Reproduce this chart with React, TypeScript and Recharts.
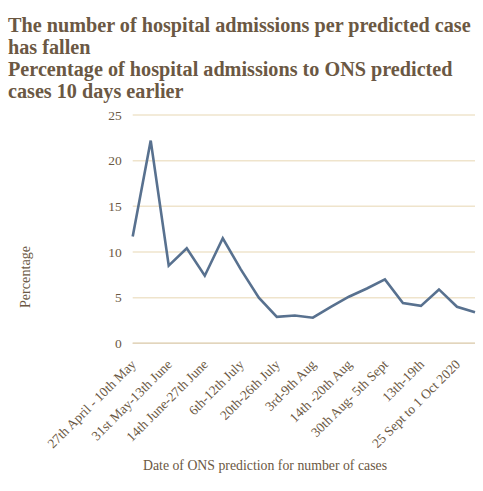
import React from 'react';
import { LineChart, Line, XAxis, YAxis, CartesianGrid, Label } from 'recharts';

// one label every other reporting period; the gaps stay blank on the axis
const periods = [
  '27th April - 10th May', '', '31st May-13th June', '', '14th June-27th June', '',
  '6th-12th July', '', '20th-26th July', '', '3rd-9th Aug', '', '14th -20th Aug', '',
  '30th Aug- 5th Sept', '', '13th-19th', '', '25 Sept to 1 Oct 2020', '',
];
const admissionPct = [
  11.7, 22.2, 8.5, 10.4, 7.4, 11.5, 8.1, 5.0, 2.9, 3.05,
  2.8, 4.0, 5.1, 6.0, 7.0, 4.4, 4.1, 5.9, 4.0, 3.4,
];
const yTicks = [0, 5, 10, 15, 20, 25];

const data = periods.map((p, i) => ({ idx: i, period: p, pct: admissionPct[i] }));

const BROWN = '#6b5843';
const FONT = '"Liberation Serif", "DejaVu Serif", serif';

const PeriodTick = (props: any) => {
  const { x, y, payload } = props;
  const text = periods[payload.value] || '';
  const ax = x + 4;
  const ay = y + 14;
  return (
    <text
      x={ax}
      y={ay}
      transform={`rotate(-45, ${ax}, ${ay})`}
      textAnchor="end"
      fontSize={13.5}
      fill={BROWN}
      fontFamily={FONT}
    >
      {text}
    </text>
  );
};

export default function App() {
  return (
    <div style={{ position: 'absolute', left: 0, top: 0, width: 483, height: 491, background: '#fff', fontFamily: FONT }}>
      <div
        style={{
          position: 'absolute',
          left: 8,
          top: 14,
          width: 475,
          color: BROWN,
          fontWeight: 'bold',
          fontSize: 20.2,
          lineHeight: '22px',
        }}
      >
        <div>The number of hospital admissions per predicted case has fallen</div>
        <div>Percentage of hospital admissions to ONS predicted cases 10 days earlier</div>
      </div>
      <div style={{ position: 'absolute', left: 0, top: 0 }}>
        <LineChart width={483} height={491} data={data} margin={{ top: 115, right: 8, left: 0, bottom: 0 }}>
          <CartesianGrid vertical={false} stroke="#efe4cc" strokeWidth={1.5} />
          <XAxis
            dataKey="idx"
            type="category"
            interval={0}
            tick={<PeriodTick />}
            tickLine={false}
            axisLine={{ stroke: '#e2d5bd', strokeWidth: 1.5 }}
            height={147.7}
          >
            <Label
              content={() => (
                <text x={265} y={467} textAnchor="middle" dominantBaseline="middle" fontSize={13.8} fill={BROWN} fontFamily={FONT}>
                  Date of ONS prediction for number of cases
                </text>
              )}
            />
          </XAxis>
          <YAxis
            domain={[0, 25]}
            ticks={yTicks}
            width={132.7}
            tickLine={false}
            axisLine={false}
            tickMargin={5}
            tick={{ fontSize: 13.5, fill: BROWN, fontFamily: FONT }}
          >
            <Label
              content={() => (
                <text
                  x={27}
                  y={277}
                  transform="rotate(-90, 27, 277)"
                  textAnchor="middle"
                  dominantBaseline="middle"
                  fontSize={14.2}
                  fill={BROWN}
                  fontFamily={FONT}
                >
                  Percentage
                </text>
              )}
            />
          </YAxis>
          <Line
            type="linear"
            dataKey="pct"
            stroke="#58718f"
            strokeWidth={2.6}
            dot={false}
            activeDot={false}
            isAnimationActive={false}
          />
        </LineChart>
      </div>
    </div>
  );
}
